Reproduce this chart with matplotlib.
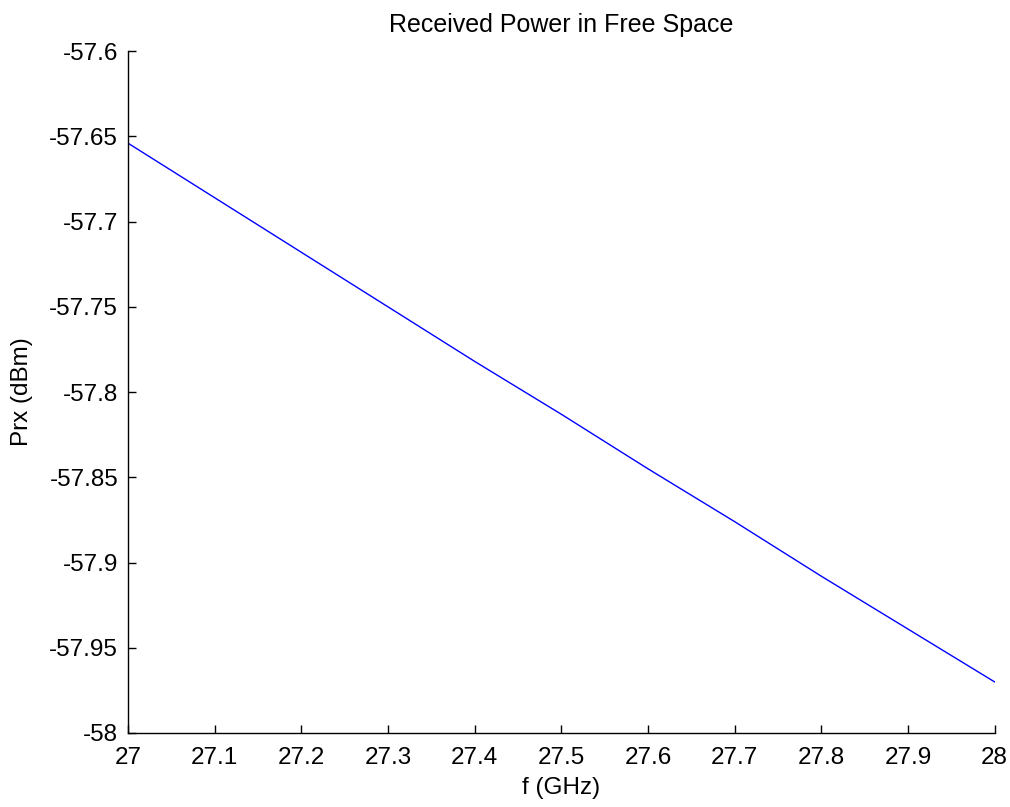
import matplotlib
matplotlib.use('Agg')
from matplotlib import pyplot as plt

# values
freq = [27.0, 27.1, 27.2, 27.3, 27.4, 27.5, 27.6, 27.7, 27.8, 27.9, 28.0]
prx = [-57.654, -57.686, -57.718, -57.750, -57.782, -57.813,
       -57.845, -57.876, -57.908, -57.939, -57.970]
xticks = [27, 27.1, 27.2, 27.3, 27.4, 27.5, 27.6, 27.7, 27.8, 27.9, 28]
yticks = [-58, -57.95, -57.9, -57.85, -57.8, -57.75, -57.7, -57.65, -57.6]


def main():
    plt.rcParams['font.family'] = ['Liberation Sans', 'DejaVu Sans']
    plt.rcParams['font.size'] = 17.5

    fig = plt.figure(figsize=(10.1, 8.07), dpi=100)
    ax = fig.add_axes([0.1267, 0.0917, 0.858, 0.845])
    ax.plot(freq, prx, color='#0000ff', linewidth=1)

    ax.set_xlim(27, 28)
    ax.set_ylim(-58, -57.6)
    ax.set_xticks(xticks)
    ax.set_xticklabels([('%g' % t) for t in xticks])
    ax.set_yticks(yticks)
    ax.set_yticklabels([('%g' % t) for t in yticks])
    ax.tick_params(direction='in', length=6, width=1)
    ax.tick_params(axis='x', pad=10)
    ax.tick_params(axis='y', pad=7)

    ax.spines['top'].set_visible(False)
    ax.spines['right'].set_visible(False)
    ax.spines['left'].set_linewidth(1)
    ax.spines['bottom'].set_linewidth(1)

    ax.set_xlabel('f (GHz)', labelpad=6)
    ax.set_ylabel('Prx (dBm)', labelpad=12)
    ax.set_title('Received Power in Free Space', fontsize=18, pad=14)

    fig.savefig('out.png', dpi=100, facecolor='white')


if __name__ == '__main__':
    main()
